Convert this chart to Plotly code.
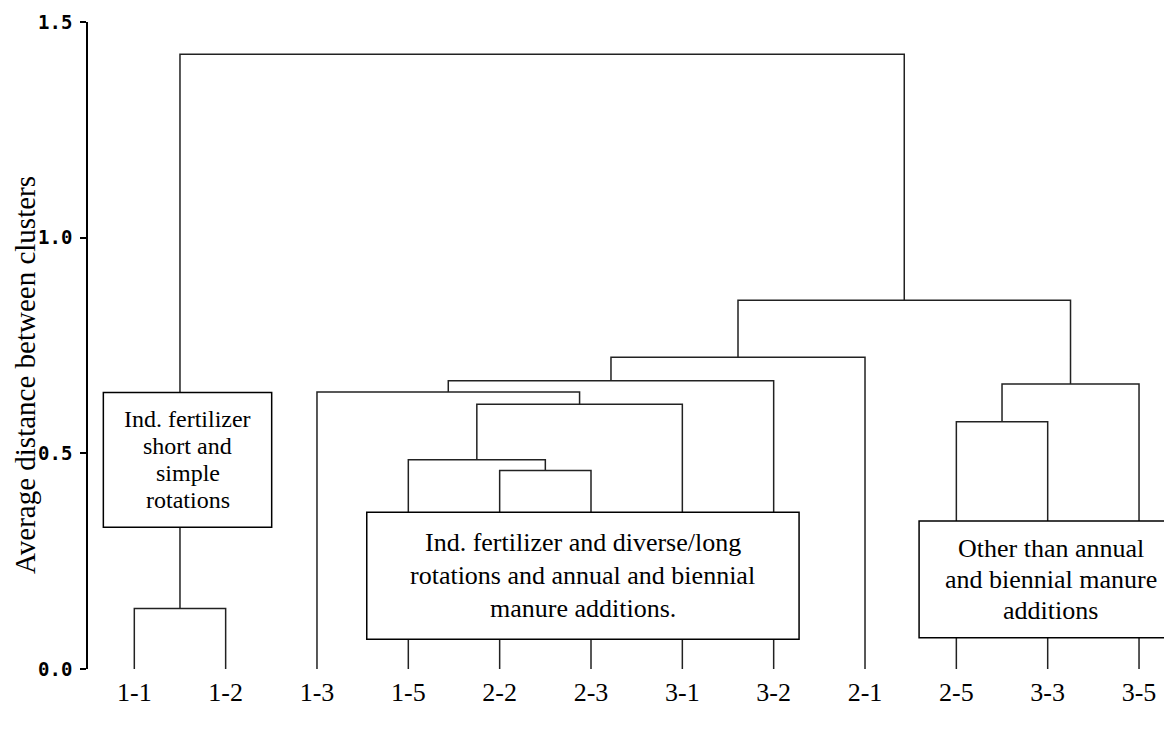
import plotly.graph_objects as go

# ---- data ----
leaf_labels = ["1-1", "1-2", "1-3", "1-5", "2-2", "2-3", "3-1", "3-2", "2-1", "2-5", "3-3", "3-5"]
merge_left = ["1-1", "2-2", "1-5", "2-5", "m2", "1-3", "m3", "m5", "m7", "m8", "m0"]
merge_right = ["1-2", "2-3", "m1", "3-3", "3-1", "m4", "3-5", "3-2", "2-1", "m6", "m9"]
merge_height = [0.140, 0.460, 0.485, 0.573, 0.614, 0.642, 0.661, 0.668, 0.723, 0.855, 1.425]

y_ticks = [0.0, 0.5, 1.0, 1.5]

box_texts = [
    ["Ind. fertilizer", "short and", "simple", "rotations"],
    ["Ind. fertilizer and diverse/long", "rotations and annual and biennial", "manure additions."],
    ["Other than annual", "and biennial manure", "additions"],
]

# ---- build dendrogram segments from the linkage ----
pos = {lab: float(i) for i, lab in enumerate(leaf_labels)}
hgt = {lab: 0.0 for lab in leaf_labels}
xs, ys = [], []
for k, (a, b, h) in enumerate(zip(merge_left, merge_right, merge_height)):
    xs += [pos[a], pos[a], pos[b], pos[b], None]
    ys += [hgt[a], h, h, hgt[b], None]
    name = f"m{k}"
    pos[name] = (pos[a] + pos[b]) / 2
    hgt[name] = h

fig = go.Figure()
fig.add_trace(go.Scatter(x=xs, y=ys, mode="lines",
                         line=dict(color="#222222", width=1.5),
                         hoverinfo="skip", showlegend=False))

SERIF = "Liberation Serif, Times New Roman, serif"

# boxes: (x0, x1, y0, y1) in data units, font size, line spacing px
boxes = [
    ((-0.339, 1.504, 0.3285, 0.641), 24, 27),
    ((2.545, 7.278, 0.0689, 0.3633), 26, 33),
    ((8.592, 11.48, 0.0726, 0.343), 26, 31),
]
for (x0, x1, y0, y1), fs, sp in boxes:
    fig.add_shape(type="rect", xref="x", yref="y", x0=x0, x1=x1, y0=y0, y1=y1,
                  line=dict(color="black", width=1.5), fillcolor="white", layer="above")
for ((x0, x1, y0, y1), fs, sp), lines in zip(boxes, box_texts):
    n = len(lines)
    for i, t in enumerate(lines):
        fig.add_annotation(x=(x0 + x1) / 2, y=(y0 + y1) / 2, xref="x", yref="y",
                           text=t, showarrow=False, xanchor="center", yanchor="middle",
                           yshift=((n - 1) / 2 - i) * sp,
                           font=dict(family=SERIF, size=fs, color="black"))

# y-axis title
fig.add_annotation(text="Average distance between clusters", textangle=-90,
                   xref="paper", yref="paper", x=(25 - 88) / 1084, y=(669 - 375) / 647,
                   xanchor="center", yanchor="middle", showarrow=False,
                   font=dict(family=SERIF, size=29, color="black"))

# page body adds an 8px offset, so the figure is 8px smaller and margins shifted
fig.update_layout(
    width=1164, height=722,
    margin=dict(l=80, r=0, t=14, b=61, autoexpand=False),
    paper_bgcolor="white", plot_bgcolor="white",
    showlegend=False,
    xaxis=dict(range=[-0.507, 11.361], tickmode="array", automargin=False,
               tickvals=list(range(len(leaf_labels))), ticktext=leaf_labels,
               showline=False, showgrid=False, zeroline=False, ticks="",
               ticklabelstandoff=5,
               tickfont=dict(family=SERIF, size=26, color="black")),
    yaxis=dict(range=[0, 1.5], tickmode="array", tickvals=y_ticks, automargin=False,
               tickformat=".1f", showline=True, linecolor="black", linewidth=1.5,
               ticks="outside", ticklen=6, tickwidth=1.5, tickcolor="black",
               showgrid=False, zeroline=False, ticklabelstandoff=4,
               tickfont=dict(family="DejaVu Sans Mono", size=19, color="black", weight="bold")),
)

fig.write_html("out.html")
